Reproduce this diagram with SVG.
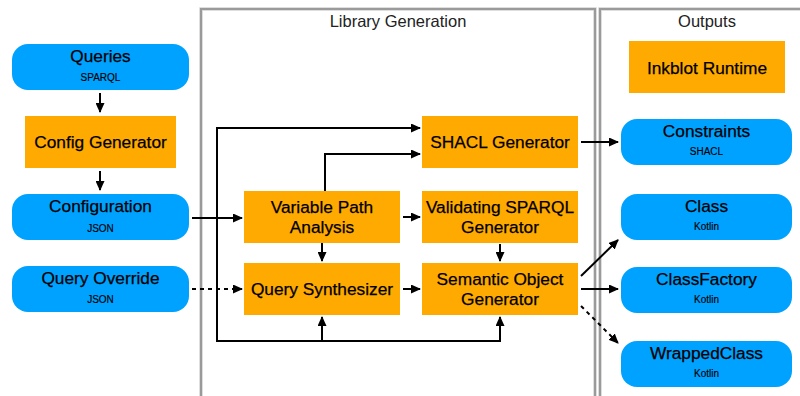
<svg xmlns="http://www.w3.org/2000/svg" width="800" height="396" viewBox="0 0 800 396">
<style>
.halo{fill:none;stroke:#d4d4d4;stroke-width:3.5}
.panel{fill:none;stroke:#9a9a9a;stroke-width:2}
.blue{fill:#00A2FF}
.orange{fill:#FFAA00}
.t{font-family:"Liberation Sans",Arial,sans-serif;font-size:17.3px;fill:#000;stroke:#000;stroke-width:0.25;text-anchor:middle}
.s{font-family:"Liberation Sans",Arial,sans-serif;font-size:10px;fill:#000;stroke:#000;stroke-width:0.15;text-anchor:middle}
.h{font-family:"Liberation Sans",Arial,sans-serif;font-size:16.5px;fill:#222;text-anchor:middle}
.c{fill:none;stroke:#000;stroke-width:2}
.d{stroke-dasharray:4 4}
</style>
<defs>
<marker id="ah" markerUnits="userSpaceOnUse" markerWidth="10" markerHeight="9" viewBox="0 0 10 9" refX="9" refY="4.5" orient="auto">
<path d="M0,0 L10,4.5 L0,9 z" fill="#000"/>
</marker>
</defs>
<g id="panel-library">
<rect class="halo" x="201" y="9" width="394" height="400"/>
<rect class="panel" x="201" y="9" width="394" height="400"/>
<text class="h" x="398" y="27">Library Generation</text>
</g>
<g id="panel-outputs">
<rect class="halo" x="600" y="9" width="214" height="400"/>
<rect class="panel" x="600" y="9" width="214" height="400"/>
<text class="h" x="707" y="27">Outputs</text>
</g>
<g id="connectors">
<path class="c" d="M100,93 V112" marker-end="url(#ah)"/>
<path class="c" d="M100,171 V190" marker-end="url(#ah)"/>
<path class="c" d="M192,218 H242" marker-end="url(#ah)"/>
<path class="c d" d="M192,289 H242" marker-end="url(#ah)"/>
<path class="c" d="M217,128 H420" marker-end="url(#ah)"/>
<path class="c" d="M217,127 V341 H500 V317" marker-end="url(#ah)"/>
<path class="c" d="M322,341 V317" marker-end="url(#ah)"/>
<path class="c" d="M325,191 V154 H420" marker-end="url(#ah)"/>
<path class="c" d="M403,217 H420" marker-end="url(#ah)"/>
<path class="c" d="M322,243 V261" marker-end="url(#ah)"/>
<path class="c" d="M500,244 V261" marker-end="url(#ah)"/>
<path class="c" d="M403,289 H420" marker-end="url(#ah)"/>
<path class="c" d="M581,142 H618" marker-end="url(#ah)"/>
<path class="c" d="M581,276 L618,240" marker-end="url(#ah)"/>
<path class="c" d="M581,289 H618" marker-end="url(#ah)"/>
<path class="c d" d="M581,306 L618,343" marker-end="url(#ah)"/>
</g>
<g id="queries">
<rect class="blue" x="12" y="44" width="177" height="46" rx="16"/>
<text class="t" x="100.5" y="62">Queries</text>
<text class="s" x="100.5" y="81">SPARQL</text>
</g>
<g id="config-generator">
<rect class="orange" x="25" y="116" width="151" height="52"/>
<text class="t" x="100.5" y="148">Config Generator</text>
</g>
<g id="configuration">
<rect class="blue" x="12" y="194" width="177" height="46" rx="16"/>
<text class="t" x="100.5" y="212">Configuration</text>
<text class="s" x="100.5" y="232">JSON</text>
</g>
<g id="query-override">
<rect class="blue" x="12" y="266" width="177" height="46" rx="16"/>
<text class="t" x="100.5" y="284">Query Override</text>
<text class="s" x="100.5" y="303">JSON</text>
</g>
<g id="variable-path-analysis">
<rect class="orange" x="244" y="191" width="156" height="52"/>
<text class="t" x="322" y="213">Variable Path</text>
<text class="t" x="322" y="233">Analysis</text>
</g>
<g id="query-synthesizer">
<rect class="orange" x="244" y="263" width="156" height="52"/>
<text class="t" x="322" y="295">Query Synthesizer</text>
</g>
<g id="shacl-generator">
<rect class="orange" x="422" y="116" width="156" height="52"/>
<text class="t" x="500" y="148">SHACL Generator</text>
</g>
<g id="validating-sparql-generator">
<rect class="orange" x="422" y="191" width="156" height="52"/>
<text class="t" x="500" y="213">Validating SPARQL</text>
<text class="t" x="500" y="233">Generator</text>
</g>
<g id="semantic-object-generator">
<rect class="orange" x="422" y="263" width="156" height="52"/>
<text class="t" x="500" y="285">Semantic Object</text>
<text class="t" x="500" y="305">Generator</text>
</g>
<g id="inkblot-runtime">
<rect class="orange" x="629" y="41" width="156" height="52"/>
<text class="t" x="707" y="74">Inkblot Runtime</text>
</g>
<g id="constraints">
<rect class="blue" x="621" y="119" width="171" height="46" rx="16"/>
<text class="t" x="706.5" y="137">Constraints</text>
<text class="s" x="706.5" y="155">SHACL</text>
</g>
<g id="class">
<rect class="blue" x="621" y="194" width="171" height="46" rx="16"/>
<text class="t" x="706.5" y="212">Class</text>
<text class="s" x="706.5" y="230">Kotlin</text>
</g>
<g id="classfactory">
<rect class="blue" x="621" y="267" width="171" height="46" rx="16"/>
<text class="t" x="706.5" y="285">ClassFactory</text>
<text class="s" x="706.5" y="303">Kotlin</text>
</g>
<g id="wrappedclass">
<rect class="blue" x="621" y="341" width="171" height="46" rx="16"/>
<text class="t" x="706.5" y="359">WrappedClass</text>
<text class="s" x="706.5" y="377">Kotlin</text>
</g>
</svg>
